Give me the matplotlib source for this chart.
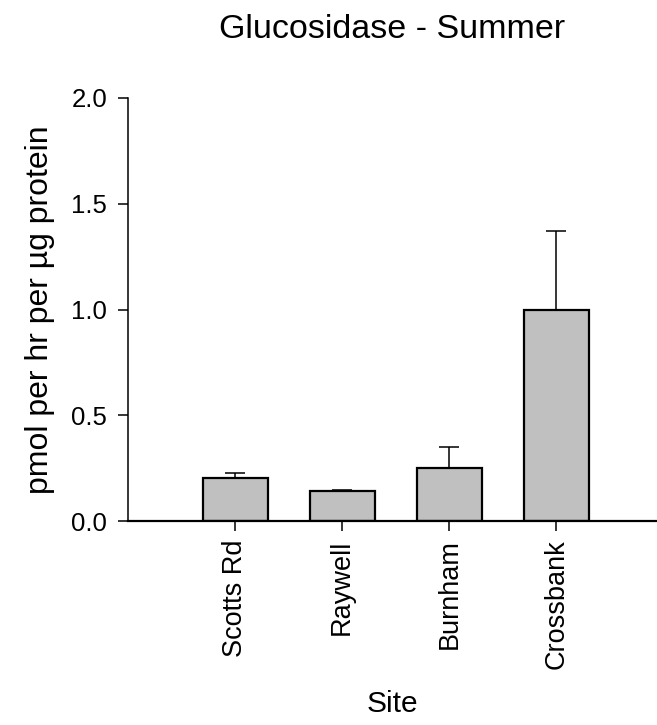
import matplotlib.pyplot as plt
import numpy as np

plt.rcParams['font.family'] = ['Liberation Sans', 'DejaVu Sans']

sites = ['Scotts Rd', 'Raywell', 'Burnham', 'Crossbank']
means = [0.205, 0.143, 0.25, 1.0]
errs = [0.022, 0.006, 0.10, 0.37]

fig = plt.figure(figsize=(6.57, 7.25), dpi=100)
ax = fig.add_axes([0.195, 0.281, 0.805, 0.584])

x = np.arange(len(sites))
ax.bar(x, means, width=0.61, color='#c0c0c0', edgecolor='black', linewidth=1.6, zorder=2)
ax.errorbar(x, means, yerr=[np.zeros(len(errs)), errs], fmt='none', ecolor='black',
            elinewidth=1.1, capsize=7, capthick=1.1, zorder=1)

ax.set_xlim(-1.0, 3.94)
ax.set_ylim(0, 2.0)
ax.set_yticks([0, 0.5, 1.0, 1.5, 2.0])
ax.set_yticklabels(['0.0', '0.5', '1.0', '1.5', '2.0'], fontsize=18.5)
ax.set_xticks(x)
ax.set_xticklabels(sites, rotation=90, fontsize=19.5)
ax.tick_params(axis='both', direction='out', length=7, width=1.1)
ax.tick_params(axis='y', pad=8)
ax.tick_params(axis='x', pad=6)

for s in ['top', 'right']:
    ax.spines[s].set_visible(False)
ax.spines['left'].set_linewidth(1.1)
ax.spines['bottom'].set_linewidth(1.6)

ax.set_ylabel('pmol per hr per µg protein', fontsize=23, labelpad=12)
ax.set_xlabel('Site', fontsize=21.5, labelpad=15)
ax.set_title('Glucosidase - Summer', fontsize=24.5, pad=43)

fig.savefig('out.png', dpi=100)
